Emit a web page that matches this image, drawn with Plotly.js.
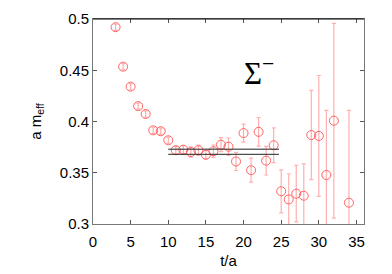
<!DOCTYPE html>
<html>
<head>
<meta charset="utf-8">
<script src="https://cdn.plot.ly/plotly-3.0.1.min.js"></script>
<style>html,body{margin:0;padding:0;background:#fff;}#plot{width:392px;height:274px;}</style>
</head>
<body>
<div id="plot"></div>
<script>
var tValues = [3,4,5,6,7,8,9,10,11,12,13,14,15,16,17,18,19,20,21,22,23,24,25,26,27,28,29,30,31,32,34];
var meff = [0.492,0.4535,0.434,0.415,0.4073,0.3914,0.3905,0.3817,0.372,0.3725,0.3702,0.372,0.3676,0.371,0.3774,0.3754,0.361,0.3887,0.3525,0.3899,0.3618,0.3768,0.3319,0.324,0.3296,0.3276,0.3868,0.3859,0.3478,0.4008,0.3208];
var meffErr = [0.003,0.003,0.003,0.003,0.003,0.003,0.003,0.003,0.0037,0.004,0.005,0.005,0.004,0.006,0.0068,0.0085,0.0088,0.0088,0.0117,0.014,0.014,0.017,0.021,0.025,0.0276,0.031,0.0436,0.059,0.063,0.095,0.090];
var fitRange = [10, 24.7];
var fitUpper = 0.373;
var fitLower = 0.368;
var xTicks = [0,5,10,15,20,25,30,35];
var yTicks = [0.3,0.35,0.4,0.45,0.5];

var traces = [
  {x: tValues, y: meff, type: 'scatter', mode: 'markers',
   marker: {symbol: 'circle-open', size: 9, color: '#ff6464', line: {width: 1}},
   error_y: {type: 'data', array: meffErr, visible: true, color: 'rgba(255,110,110,0.55)', thickness: 1.2, width: 2},
   showlegend: false},
  {x: fitRange, y: [fitUpper, fitUpper], type: 'scatter', mode: 'lines', line: {color: '#222', width: 1}, showlegend: false},
  {x: fitRange, y: [fitLower, fitLower], type: 'scatter', mode: 'lines', line: {color: '#222', width: 1}, showlegend: false}
];

var layout = {
  width: 392, height: 274,
  margin: {l: 93, r: 28, t: 19, b: 50},
  paper_bgcolor: '#fff', plot_bgcolor: '#fff',
  font: {family: 'Liberation Sans, Arial, sans-serif', size: 15, color: '#000'},
  xaxis: {range: [0, 36], tickvals: xTicks, ticks: 'inside', ticklen: 4, tickcolor: '#555', ticklabelstandoff: 4,
          showline: true, linecolor: '#777', linewidth: 1, mirror: 'allticks', showgrid: false, zeroline: false,
          title: {text: 't/a', font: {size: 15}, standoff: 6}},
  yaxis: {range: [0.3, 0.5], tickvals: yTicks, ticktext: ['0.3','0.35','0.4','0.45','0.5'], ticks: 'inside', ticklen: 4, tickcolor: '#555',
          showline: true, linecolor: '#777', linewidth: 1, mirror: 'allticks', showgrid: false, zeroline: false,
          title: {text: 'a m<sub>eff</sub>', font: {size: 15}, standoff: 14}},
  shapes: [{type: 'line', xref: 'paper', yref: 'paper', x0: 0, x1: 1, y0: 1, y1: 1, line: {color: '#000', width: 1}}],
  annotations: [{x: 19.8, y: 0.449, xref: 'x', yref: 'y', xanchor: 'left', yanchor: 'middle', showarrow: false,
                 text: 'Σ<sup>−</sup>', font: {family: 'Liberation Serif, Times New Roman, serif', size: 31, color: '#000'}}]
};

Plotly.newPlot('plot', traces, layout, {displayModeBar: false, staticPlot: true});
</script>
</body>
</html>
